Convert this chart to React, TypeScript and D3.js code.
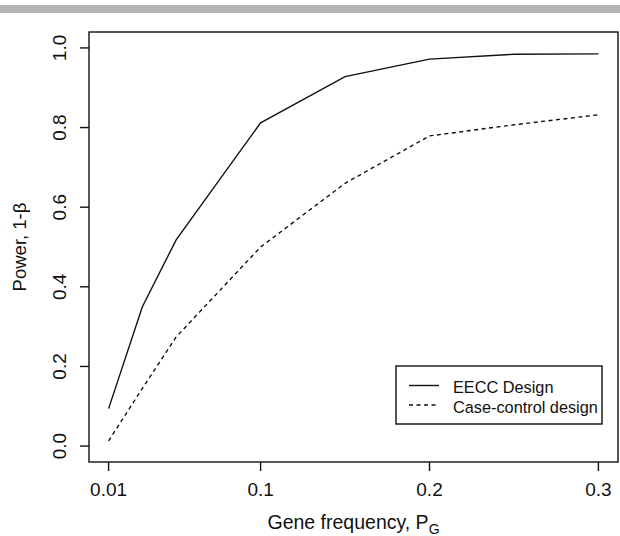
import React from "react";
import * as d3 from "d3";

const geneFreq = [0.01, 0.03, 0.05, 0.1, 0.15, 0.2, 0.25, 0.3];
const eeccPower = [0.094, 0.35, 0.518, 0.812, 0.928, 0.972, 0.984, 0.985];
const caseControlPower = [0.013, 0.145, 0.274, 0.5, 0.66, 0.779, 0.807, 0.832];
const xTicks = [0.01, 0.1, 0.2, 0.3];
const xTickLabels = ["0.01", "0.1", "0.2", "0.3"];
const yTicks = [0, 0.2, 0.4, 0.6, 0.8, 1.0];
const yTickLabels = ["0.0", "0.2", "0.4", "0.6", "0.8", "1.0"];
const seriesNames = ["EECC Design", "Case-control design"];

const W = 620;
const H = 536;
const left = 89;
const right = 618;
const top = 32;
const bottom = 462;
const font = "'Liberation Sans', Arial, Helvetica, sans-serif";

export default function App() {
  const xr = 0.3 - 0.01;
  const x = d3.scaleLinear().domain([0.01 - 0.04 * xr, 0.3 + 0.04 * xr]).range([left, right]);
  const y = d3.scaleLinear().domain([-0.04, 1.04]).range([bottom, top]);
  const line = d3
    .line<[number, number]>()
    .x((d) => x(d[0]))
    .y((d) => y(d[1]));
  const eecc = line(geneFreq.map((g, i) => [g, eeccPower[i]] as [number, number])) || "";
  const cc = line(geneFreq.map((g, i) => [g, caseControlPower[i]] as [number, number])) || "";
  const stroke = "#111";
  const cx = (left + right) / 2;
  const cy = (top + bottom) / 2;

  return (
    <svg
      width={W}
      height={H}
      style={{ position: "absolute", left: 0, top: 0, background: "#fff" }}
      fontFamily={font}
    >
      <rect x={0} y={0} width={W} height={H} fill="#fff" />
      <rect x={0} y={5} width={W} height={8} fill="#b5b5b5" />
      <path d={eecc} fill="none" stroke={stroke} strokeWidth={1.4} />
      <path d={cc} fill="none" stroke={stroke} strokeWidth={1.4} strokeDasharray="4,3.5" />
      <rect x={left} y={top} width={right - left} height={bottom - top} fill="none" stroke={stroke} strokeWidth={1.4} />
      {xTicks.map((t, i) => (
        <g key={"x" + i}>
          <line x1={x(t)} x2={x(t)} y1={bottom} y2={bottom + 9} stroke={stroke} strokeWidth={1.4} />
          <text x={x(t)} y={496} textAnchor="middle" fontSize={19} fill="#111">
            {xTickLabels[i]}
          </text>
        </g>
      ))}
      {yTicks.map((t, i) => (
        <g key={"y" + i}>
          <line x1={left} x2={left - 9} y1={y(t)} y2={y(t)} stroke={stroke} strokeWidth={1.4} />
          <text
            transform={`translate(66,${y(t)}) rotate(-90)`}
            textAnchor="middle"
            fontSize={19}
            fill="#111"
          >
            {yTickLabels[i]}
          </text>
        </g>
      ))}
      <text x={cx} y={529} textAnchor="middle" fontSize={19.5} fill="#111">
        Gene frequency, P
        <tspan fontSize={14} dy={5}>G</tspan>
      </text>
      <text transform={`translate(26,${cy}) rotate(-90)`} textAnchor="middle" fontSize={18.5} fill="#111">
        Power, 1-β
      </text>
      <rect x={396} y={366} width={206} height={58} fill="#fff" stroke={stroke} strokeWidth={1.4} />
      <line x1={409} x2={439} y1={385.5} y2={385.5} stroke={stroke} strokeWidth={1.4} />
      <line x1={409} x2={439} y1={405} y2={405} stroke={stroke} strokeWidth={1.4} strokeDasharray="4,3.5" />
      <text x={453} y={393} fontSize={16.3} fill="#111">
        {seriesNames[0]}
      </text>
      <text x={453} y={412.5} fontSize={16.3} fill="#111">
        {seriesNames[1]}
      </text>
    </svg>
  );
}
